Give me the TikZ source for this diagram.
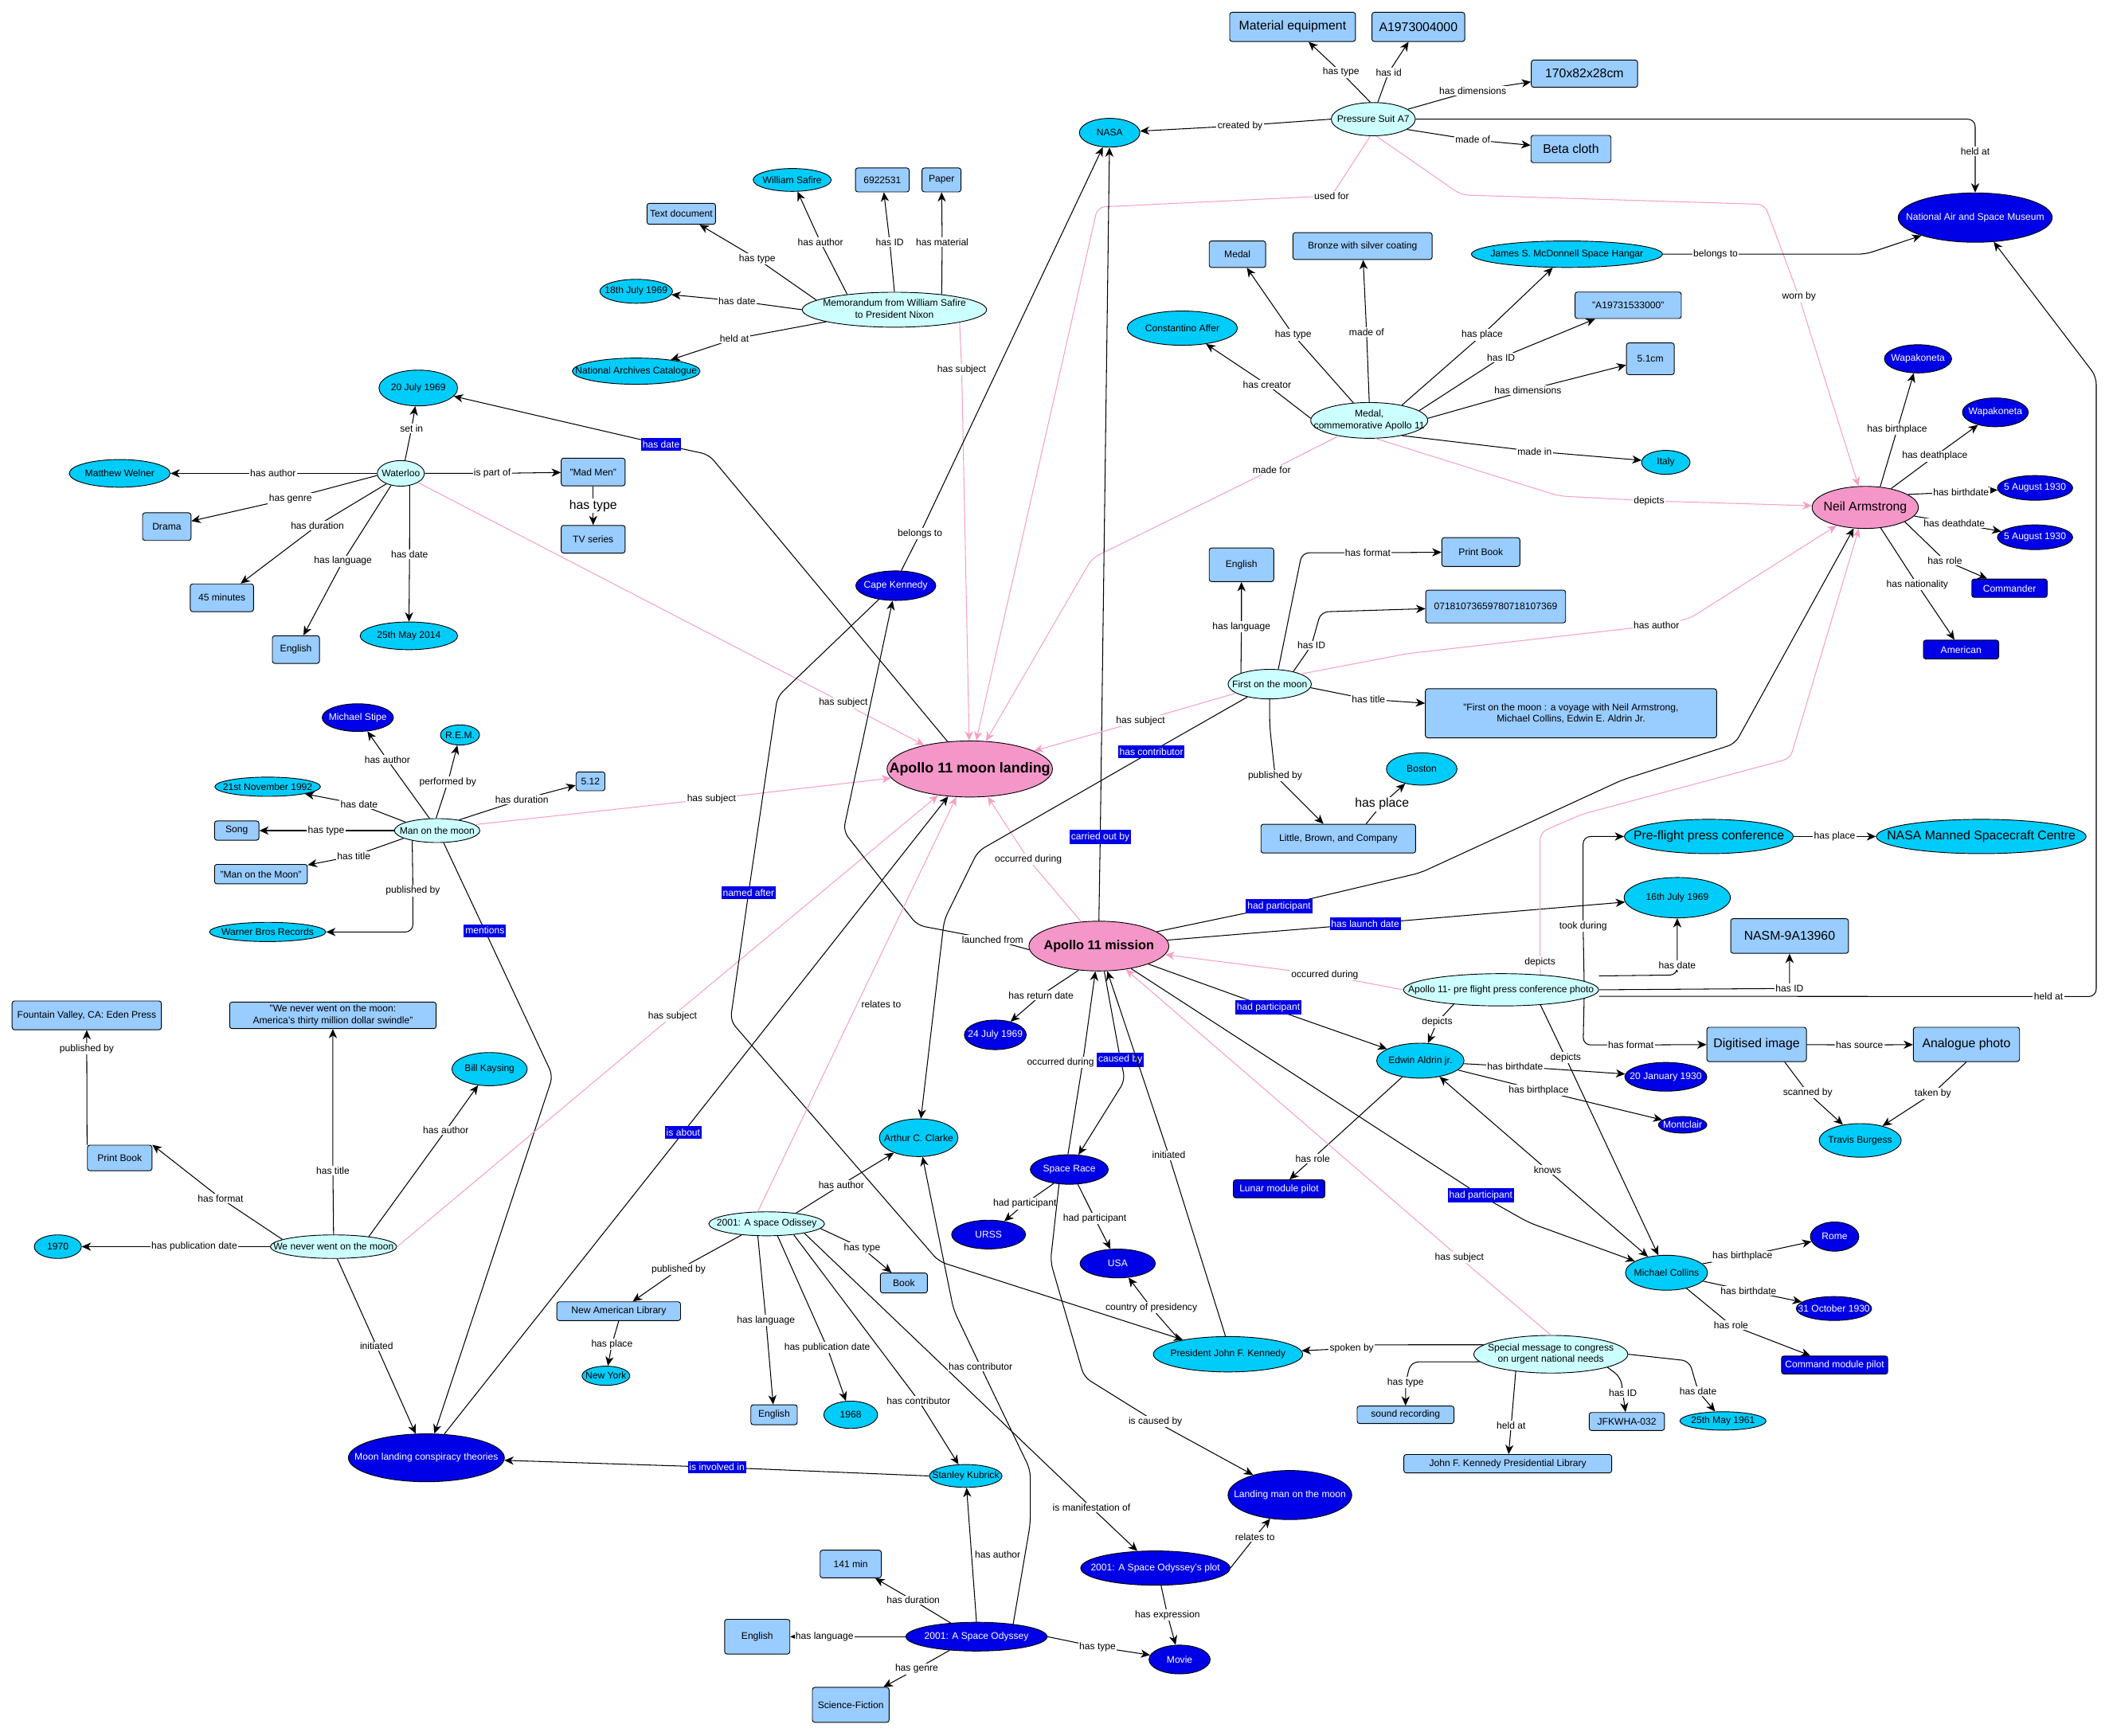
\documentclass[tikz,border=0pt]{standalone}
\usepackage{fontspec}
\setmainfont{Liberation Sans}
\usepackage{xcolor}
\usepackage{tikz}
\usetikzlibrary{shapes.geometric}
\usetikzlibrary{arrows.meta}
\definecolor{entcyan}{RGB}{0,204,250}
\definecolor{entlight}{RGB}{204,255,255}
\definecolor{entblue}{RGB}{0,0,230}
\definecolor{valblue}{RGB}{153,204,255}
\definecolor{entpink}{RGB}{245,150,200}
\definecolor{edgepink}{RGB}{245,160,200}
\newcommand{\smallfont}{\fontsize{5.2}{6.2}\selectfont}
\newcommand{\largefont}{\fontsize{6.8}{8.1}\selectfont}
\newcommand{\titlefont}{\fontsize{7}{8.4}\selectfont\bfseries}
\newcommand{\bigtitlefont}{\fontsize{7.7}{9.2}\selectfont\bfseries}

\begin{document}
\begin{tikzpicture}[x=0.2551mm, y=-0.2551mm, >={Stealth[length=5pt,width=4.4pt,inset=1.5pt]},
  dims/.style 2 args={minimum width=#1*0.2551mm, minimum height=#2*0.2551mm},
  ent node/.style={ellipse, draw, line width=0.4pt, inner sep=0pt, font=\smallfont,
    execute at begin node={\hbox to 0pt\bgroup\hss}, execute at end node={\hss\egroup}},
  cyan node/.style={ent node, fill=entcyan},
  light node/.style={ent node, fill=entlight},
  blue node/.style={ent node, fill=entblue, text=white},
  pink node/.style={ent node, fill=entpink},
  val node/.style={rectangle, draw, line width=0.4pt, fill=valblue, rounded corners=1.3pt, inner sep=1pt, font=\smallfont},
  blue val/.style={val node, fill=entblue, text=white},
  largetxt/.style={font=\largefont},
  edge lab/.style={sharp corners, fill=white, inner sep=0.6pt, font=\smallfont},
  blue lab/.style={sharp corners, fill=entblue, text=white, inner xsep=0.8pt, inner ysep=1.5pt, font=\smallfont},
  big lab/.style={edge lab, font=\largefont},
  arr/.style={draw, line width=0.45pt, ->},
  pink arr/.style={arr, draw=edgepink},
  both arr/.style={arr, <->},
  curvy/.style={rounded corners=4pt}]
\useasboundingbox (0,0) rectangle (1568,1290.3);

% Nodes: pressure suit, medal, Armstrong
\node[val node, largetxt, dims={93.5}{21.7}] (mateq) at (961,20) {Material equipment};
\node[val node, largetxt, dims={69}{21.7}] (suitid) at (1054.5,20) {A1973004000};
\node[val node, largetxt, dims={79}{20.3}] (suitdim) at (1178,54.8) {170x82x28cm};
\node[light node, dims={62.5}{24.7}] (suit) at (1021,88.6) {Pressure Suit A7};
\node[cyan node, dims={45}{21.4}] (nasa) at (825,98.7) {NASA};
\node[val node, largetxt, dims={59.5}{20.3}] (beta) at (1168,110.8) {Beta cloth};
\node[blue node, dims={114.5}{36.7}] (nasm) at (1468.5,161.8) {National Air and Space Museum};
\node[val node, dims={42}{19.7}] (medaltype) at (920,189) {Medal};
\node[val node, dims={103.5}{20}] (bronze) at (1013,183) {Bronze with silver coating};
\node[cyan node, dims={142}{19.7}] (hangar) at (1165,189) {James S. McDonnell Space Hangar};
\node[cyan node, dims={82}{25.5}] (affer) at (879,244) {Constantino Affer};
\node[val node, dims={79}{19.7}] (medalid) at (1210.5,227) {"A19731533000"};
\node[val node, dims={35.5}{23.6}] (medaldim) at (1227,266.8) {5.1cm};
\node[light node, dims={87}{26.6}] (medal) at (1018,312.6) {\begin{tabular}{@{}c@{}}Medal,\\commemorative Apollo 11\end{tabular}};
\node[cyan node, dims={36}{17.8}] (italy) at (1238.5,343.8) {Italy};
\node[pink node, largetxt, dims={79}{31.3}] (neil) at (1386.75,377.3) {Neil Armstrong};
\node[blue node, dims={50}{21}] (wapa1) at (1426,266.8) {Wapakoneta};
\node[blue node, dims={49}{21.4}] (wapa2) at (1483.5,306.6) {Wapakoneta};
\node[blue node, dims={56}{18.4}] (nbirth) at (1513,362.8) {5 August 1930};
\node[blue node, dims={56}{18.4}] (ndeath) at (1513,399.5) {5 August 1930};
\node[blue val, dims={56}{13.7}] (commander) at (1494,437.4) {Commander};
\node[blue val, dims={56}{14}] (american) at (1458,483) {American};

% memorandum
\node[cyan node, dims={58}{17}] (safire) at (589,133.8) {William Safire};
\node[val node, dims={40}{17.8}] (memoid) at (656,133.8) {6922531};
\node[val node, dims={29}{17.8}] (paper) at (700,133.8) {Paper};
\node[val node, dims={51}{15.6}] (textdoc) at (506.5,159) {Text document};
\node[cyan node, dims={54}{17.8}] (memodate) at (473,216.6) {18th July 1969};
\node[light node, dims={137}{26}] (memo) at (665,230.3) {\begin{tabular}{@{}c@{}}Memorandum from William Safire\\to President Nixon\end{tabular}};
\node[cyan node, dims={95}{19.5}] (archives) at (473,276) {National Archives Catalogue};

% Waterloo
\node[cyan node, dims={58.5}{26.6}] (july20) at (311,288.5) {20 July 1969};
\node[cyan node, dims={75}{20.6}] (welner) at (89,352) {Matthew Welner};
\node[light node, dims={35}{19}] (waterloo) at (298,352) {Waterloo};
\node[val node, dims={36}{20.6}] (drama) at (124,391.6) {Drama};
\node[val node, dims={47.5}{20.6}] (madmen) at (441,351) {"Mad Men"};
\node[val node, dims={47.5}{20.6}] (tvseries) at (441,401) {TV series};
\node[val node, dims={47}{20.6}] (minutes) at (165,444.5) {45 minutes};
\node[val node, dims={35}{20.6}] (wenglish) at (220,483) {English};
\node[cyan node, dims={72.5}{20.6}] (may2014) at (304,472.8) {25th May 2014};

% Man on the moon
\node[blue node, dims={53}{20.6}] (stipe) at (266,533.6) {Michael Stipe};
\node[cyan node, dims={29}{15}] (rem) at (342,546.5) {R.E.M.};
\node[cyan node, dims={78.5}{14.3}] (nov1992) at (199,585) {21st November 1992};
\node[val node, dims={33}{14.3}] (song) at (176,617.6) {Song};
\node[val node, dims={69}{14.5}] (mtitle) at (194,650) {"Man on the Moon"};
\node[light node, dims={63.5}{17.8}] (mom) at (325,617.6) {Man on the moon};
\node[cyan node, dims={86.5}{14.3}] (warner) at (199,693) {Warner Bros Records};
\node[val node, dims={21.5}{14}] (dur512) at (439,581) {5.12};

% centre
\node[blue node, dims={59.5}{22}] (cape) at (666,435.5) {Cape Kennedy};
\node[pink node, font=\bigtitlefont, dims={123}{41.7}] (landing) at (721,571.8) {Apollo 11 moon landing};
\node[pink node, font=\titlefont, dims={104}{37}] (mission) at (817,703.5) {Apollo 11 mission};
\node[blue node, dims={46}{22}] (july24) at (740,769.5) {24 July 1969};
\node[cyan node, dims={58.5}{28}] (clarke) at (683,846) {Arthur C. Clarke};

% First on the moon
\node[val node, dims={48}{25}] (fenglish) at (923,420) {English};
\node[val node, dims={58}{21.4}] (printbook) at (1101,410.5) {Print Book};
\node[val node, dims={104}{24.4}] (isbn) at (1112,451) {07181073659780718107369};
\node[light node, dims={62}{22}] (first) at (944,508.7) {First on the moon};
\node[val node, align=center, dims={216.5}{36.5}] (ftitle) at (1168,530.4) {"First on the moon : a voyage with Neil Armstrong,\\Michael Collins, Edwin E. Aldrin Jr.};
\node[cyan node, dims={52.5}{24}] (boston) at (1057,571.8) {Boston};
\node[val node, dims={115}{21.4}] (little) at (995,623.6) {Little, Brown, and Company};

% press conference photo
\node[cyan node, largetxt, dims={125.5}{25.5}] (preflight) at (1270.5,622) {Pre-flight press conference};
\node[cyan node, largetxt, dims={156}{25.5}] (mannedctr) at (1473,622) {NASA Manned Spacecraft Centre};
\node[cyan node, dims={79}{30}] (july16) at (1247,667.5) {16th July 1969};
\node[val node, largetxt, dims={87.5}{25.8}] (nasmid) at (1330.5,696) {NASM-9A13960};
\node[light node, dims={145}{24}] (photo) at (1116,736) {Apollo 11- pre flight press conference photo};
\node[val node, largetxt, dims={74}{25.5}] (digitised) at (1306,776.6) {Digitised image};
\node[val node, largetxt, dims={79}{25.5}] (analogue) at (1462,776.6) {Analogue photo};
\node[cyan node, dims={61}{25}] (travis) at (1383,848) {Travis Burgess};
\node[cyan node, dims={65}{26}] (aldrin) at (1056,788.7) {Edwin Aldrin jr.};
\node[blue node, dims={61}{21.4}] (jan1930) at (1238.5,800.7) {20 January 1930};
\node[blue node, dims={36}{12.3}] (montclair) at (1251,836.4) {Montclair};
\node[blue val, dims={68}{13.4}] (lunar) at (951,884) {Lunar module pilot};
\node[cyan node, dims={61}{26}] (collins) at (1239,946.4) {Michael Collins};
\node[blue node, dims={36}{21.7}] (rome) at (1364,919.5) {Rome};
\node[blue node, dims={56}{17.8}] (oct1930) at (1363.5,973) {31 October 1930};
\node[blue val, dims={79}{13.4}] (cmpilot) at (1364,1015) {Command module pilot};

% We never went on the moon
\node[val node, dims={111}{21.4}] (fountain) at (64.5,755) {Fountain Valley, CA: Eden Press};
\node[val node, align=center, dims={153.5}{19.7}] (wtitle) at (247.5,755) {"We never went on the moon:\\America's thirty million dollar swindle"};
\node[cyan node, dims={56}{24.7}] (kaysing) at (364,795) {Bill Kaysing};
\node[val node, dims={48}{19}] (wprint) at (89,861) {Print Book};
\node[cyan node, dims={35}{17.5}] (y1970) at (43,927) {1970};
\node[light node, dims={94}{17.5}] (wenever) at (248,927) {We never went on the moon};
\node[blue node, dims={116}{35.6}] (conspiracy) at (317,1084) {Moon landing conspiracy theories};

% 2001
\node[light node, dims={86}{17.8}] (odissey) at (570,910) {2001: A space Odissey};
\node[val node, dims={92}{14}] (nal) at (460,975) {New American Library};
\node[cyan node, dims={35.5}{14.3}] (newyork) at (450.5,1023) {New York};
\node[val node, dims={34.5}{14.8}] (oenglish) at (575.5,1052) {English};
\node[cyan node, dims={40}{20.3}] (y1968) at (632.5,1052) {1968};
\node[val node, dims={35}{14.8}] (book) at (672,954) {Book};
\node[cyan node, dims={54}{17}] (kubrick) at (718,1097.5) {Stanley Kubrick};
\node[val node, dims={45.5}{20.6}] (min141) at (632.5,1163) {141 min};
\node[val node, dims={48.5}{25.8}] (senglish) at (563,1217) {English};
\node[blue node, dims={105}{21.4}] (odyssey) at (726,1217) {2001: A Space Odyssey};
\node[val node, dims={57}{26}] (scifi) at (632.5,1267.7) {Science-Fiction};

% Space race, Kennedy
\node[blue node, dims={55}{21.4}] (urss) at (735,918) {URSS};
\node[blue node, dims={58}{22}] (spacerace) at (795,869.6) {Space Race};
\node[blue node, dims={56}{21.4}] (usa) at (831,939.5) {USA};
\node[cyan node, dims={111}{26.3}] (jfk) at (913,1007) {President John F. Kennedy};
\node[light node, dims={114.5}{28}] (special) at (1153,1007) {\begin{tabular}{@{}c@{}}Special message to congress\\on urgent national needs\end{tabular}};
\node[val node, dims={72}{13}] (sound) at (1045,1052) {sound recording};
\node[val node, dims={154.5}{13.7}] (jfklib) at (1121,1088.4) {John F. Kennedy Presidential Library};
\node[val node, dims={56}{13.4}] (jfkid) at (1209.5,1057) {JFKWHA-032};
\node[cyan node, dims={64}{13.7}] (may1961) at (1281,1056.6) {25th May 1961};
\node[blue node, dims={92}{36.5}] (landingman) at (959,1111.7) {Landing man on the moon};
\node[blue node, dims={111}{25.5}] (plot) at (859,1166) {2001: A Space Odyssey's plot};
\node[blue node, dims={45.5}{21.4}] (movie) at (877,1234) {Movie};

% Edges: pressure suit, medal, Armstrong
\draw[arr] (suit.100) -- (997,53.7) node[edge lab]{has type} -- (mateq);
\draw[arr] (suit.75) -- (1032.5,53.7) node[edge lab]{has id} -- (suitid);
\draw[arr] (suit.16) -- (1095,67.5) node[edge lab]{has dimensions} -- (suitdim);
\draw[arr] (suit.-17) -- (1095,104) node[edge lab]{made of} -- (beta);
\draw[arr] (suit.180) -- (922,93.5) node[edge lab]{created by} -- (nasa);
\draw[arr, curvy] (suit.0) -- (1468.5,88.6) -- (1468.5,112.4) node[edge lab]{held at} -- (nasm);
\draw[pink arr, curvy] (suit.280) -- (1086.5,145) -- (1312,152) -- (1337.5,220.7) node[edge lab]{worn by} -- (neil);
\draw[pink arr, curvy] (suit.260) -- (990,145.6) node[edge lab]{used for} -- (816,154) -- (landing);
\draw[arr, curvy] (hangar.0) -- (1275.5,189) node[edge lab]{belongs to} -- (1387,189) -- (nasm);
\draw[arr] (medal.178) -- (942,286) node[edge lab]{has creator} -- (affer);
\draw[arr] (medal.132) -- (961.5,249) node[edge lab]{has type} -- (medaltype);
\draw[arr] (medal.90) -- (1016,246.8) node[edge lab]{made of} -- (bronze);
\draw[arr] (medal.25) -- (1102,249) node[edge lab]{has place} -- (hangar);
\draw[arr] (medal.11) -- (1116,266) node[edge lab]{has ID} -- (medalid);
\draw[arr] (medal.2) -- (1136,290) node[edge lab]{has dimensions} -- (medaldim);
\draw[arr] (medal.-25) -- (1141,335.6) node[edge lab]{made in} -- (italy);
\draw[pink arr, curvy] (medal.290) -- (1159,368.8) -- (1226,372.4) node[edge lab]{depicts} -- (neil);
\draw[pink arr, curvy] (medal.207) -- (945.5,349.3) node[edge lab]{made for} -- (812,415) -- (landing);
\draw[arr] (neil.54) -- (1410.5,319.4) node[edge lab]{has birthplace} -- (wapa1);
\draw[arr] (neil.36) -- (1438.5,339.2) node[edge lab]{has deathplace} -- (wapa2);
\draw[arr] (neil.17) -- (1458,365.8) node[edge lab]{has birthdate} -- (nbirth);
\draw[arr] (neil.-10) -- (1453,389) node[edge lab]{has deathdate} -- (ndeath);
\draw[arr] (neil.-20) -- (1446,416.8) node[edge lab]{has role} -- (commander);
\draw[arr] (neil.-53) -- (1425.5,434.7) node[edge lab]{has nationality} -- (american);

% memorandum
\draw[arr] (memo.173) -- (563,192.5) node[edge lab]{has type} -- (textdoc);
\draw[arr] (memo.162) -- (610,180) node[edge lab]{has author} -- (safire);
\draw[arr] (memo.90) -- (661.5,180) node[edge lab]{has ID} -- (memoid);
\draw[arr] (memo.18) -- (700.5,180) node[edge lab]{has material} -- (paper);
\draw[arr] (memo.180) -- (548,223.8) node[edge lab]{has date} -- (memodate);
\draw[arr] (memo.190) -- (546,252) node[edge lab]{held at} -- (archives);
\draw[pink arr] (memo.-11) -- (715,275) node[edge lab]{has subject} -- (landing);

% Waterloo
\draw[arr] (waterloo.72) -- (306,318.6) node[edge lab]{set in} -- (july20);
\draw[arr] (waterloo.180) -- (203,352) node[edge lab]{has author} -- (welner);
\draw[arr] (waterloo.185) -- (216,370.7) node[edge lab]{has genre} -- (drama);
\draw[arr] (waterloo.216) -- (236,390.7) node[edge lab]{has duration} -- (minutes);
\draw[arr] (waterloo.231) -- (255,417.3) node[edge lab]{has language} -- (wenglish);
\draw[arr] (waterloo.306) -- (304.5,412) node[edge lab]{has date} -- (may2014);
\draw[arr] (waterloo.0) -- (366,352) node[edge lab]{is part of} -- (madmen);
\draw[arr] (madmen) -- (441,376) node[big lab]{has type} -- (tvseries);
\draw[pink arr] (waterloo.332) -- (627,522.7) node[edge lab]{has subject} -- (landing);

% Man on the moon
\draw[arr] (mom.122) -- (288,565) node[edge lab]{has author} -- (stipe);
\draw[arr] (mom.95) -- (333,581.6) node[edge lab]{performed by} -- (rem);
\draw[arr] (mom.165) -- (267,598) node[edge lab]{has date} -- (nov1992);
\draw[arr] (mom.180) -- (242.5,617.6) node[edge lab]{has type} -- (song);
\draw[arr] (mom.193) -- (263,636.5) node[edge lab]{has title} -- (mtitle);
\draw[arr, curvy] (mom.202) -- (307,662.5) node[edge lab]{published by} -- (307,693) -- (warner);
\draw[arr] (mom.26) -- (388,594.5) node[edge lab]{has duration} -- (dur512);
\draw[arr, curvy] (mom.298) -- (360.5,692) node[blue lab]{mentions} -- (411,800) -- (conspiracy);
\draw[pink arr] (mom.9) -- (529,594) node[edge lab]{has subject} -- (landing);

% We never went on the moon
\draw[arr] (wenever.90) -- (247.5,870.4) node[edge lab]{has title} -- (wtitle);
\draw[arr] (wenever.172) -- (164,891) node[edge lab]{has format} -- (wprint.north east);
\draw[arr] (wenever.180) -- (144.5,927) node[edge lab]{has publication date} -- (y1970);
\draw[arr] (wenever.16) -- (331.5,840.5) node[edge lab]{has author} -- (kaysing);
\draw[arr] (wenever.287) -- (280,1001) node[edge lab]{initiated} -- (conspiracy);
\draw[pink arr] (wenever.0) -- (500,755.5) node[edge lab]{has subject} -- (landing);
\draw[arr] (wprint.north west) -- (64.5,780) node[edge lab]{published by} -- (fountain);
\draw[arr] (conspiracy.53) -- (508,842) node[blue lab]{is about} -- (landing);

% Cape Kennedy and the mission
\draw[arr] (cape.70) -- (684,396.8) node[edge lab]{belongs to} -- (nasa);
\draw[arr, curvy] (cape.219) -- (578,518) -- (556.5,664) node[blue lab]{named after} -- (543,759) -- (698,938) -- (jfk);
\draw[arr, curvy] (landing.129) -- (527,338) -- (491.5,330.4) node[blue lab]{has date} -- (july20);
\draw[arr] (mission.90) -- (818,622.5) node[blue lab]{carried out by} -- (nasa);
\draw[pink arr] (mission.126) -- (764.5,639) node[edge lab]{occurred during} -- (landing);
\draw[arr, curvy] (mission.183) -- (738,698.7) node[edge lab]{launched from} -- (682,688) -- (627,618) -- (cape);
\draw[arr, curvy] (mission.14) -- (951,673.8) node[blue lab]{had participant} -- (1056,649) -- (1206,580) -- (1290,553) -- (neil);
\draw[arr] (mission.5) -- (1015,687) node[blue lab]{has launch date} -- (july16);
\draw[arr] (mission.-20) -- (943,749) node[blue lab]{had participant} -- (aldrin);
\draw[arr, curvy] (mission.-35) -- (1101,889) node[blue lab]{had participant} -- (1136.5,909) -- (collins);
\draw[arr] (mission.230) -- (774,740) node[edge lab]{has return date} -- (july24);
\draw[arr, curvy] (mission.-78) -- (833,788) node[blue lab]{caused by} -- (836.5,803) -- (spacerace);

% First on the moon
\draw[arr] (first.159) -- (923,466) node[edge lab]{has language} -- (fenglish);
\draw[arr, curvy] (first.60) -- (968,411) -- (1017,411) node[edge lab]{has format} -- (printbook);
\draw[arr, curvy] (first.28) -- (975,480) node[edge lab]{has ID} -- (982,455) -- (isbn);
\draw[arr] (first.-5) -- (1017.5,520) node[edge lab]{has title} -- (ftitle);
\draw[arr, curvy] (first.270) -- (944,540) -- (948,576.7) node[edge lab]{published by} -- (little);
\draw[arr] (little.28) -- (1027.5,598) node[big lab]{has place} -- (boston);
\draw[arr, curvy] (first.210) -- (856,559) node[blue lab]{has contributor} -- (727,633) -- (702,684) -- (clarke);
\draw[pink arr] (first.195) -- (848,536) node[edge lab]{has subject} -- (landing);
\draw[pink arr, curvy] (first.18) -- (1046.5,486) -- (1231.5,465) node[edge lab]{has author} -- (1256,460) -- (neil);

% press conference photo
\draw[pink arr] (photo.180) -- (985,725) node[edge lab]{occurred during} -- (mission);
\draw[arr, curvy] (photo.6) -- (1177,688.6) node[edge lab]{took during} -- (1177,622) -- (preflight);
\draw[arr] (preflight) -- (1364,622) node[edge lab]{has place} -- (mannedctr);
\draw[arr, curvy] ([yshift=7.5pt]photo.east) -- (1247,725) -- (1247,717.6) node[edge lab]{has date} -- (july16);
\draw[arr] (photo.east) -- (1330.5,735) node[edge lab]{has ID} -- (nasmid);
\draw[arr, curvy] ([yshift=-3.5pt]photo.east) -- (1523,741) node[edge lab]{held at} -- (1558.5,741) -- (1558.5,280) -- (nasm);
\draw[arr, curvy] (photo.-6) -- (1177,777) -- (1212.5,777) node[edge lab]{has format} -- (digitised);
\draw[arr] (photo.197) -- (1068.5,760) node[edge lab]{depicts} -- (aldrin);
\draw[arr] (photo.339) -- (1164,786.5) node[edge lab]{depicts} -- (collins);
\draw[pink arr, curvy] (photo.21) -- (1145,715.4) node[edge lab]{depicts} -- (1145,619) -- (1176,605.5) -- (1331,564) -- (neil);
\draw[arr] (digitised) -- (1382.5,777) node[edge lab]{has source} -- (analogue);
\draw[arr] (digitised.-32) -- (1344,812.5) node[edge lab]{scanned by} -- (travis);
\draw[arr] (analogue.south) -- (1437,813) node[edge lab]{taken by} -- (travis);

% Aldrin and Collins
\draw[arr] (aldrin.-4) -- (1126.5,793) node[edge lab]{has birthdate} -- (jan1930);
\draw[arr] (aldrin.-14) -- (1144,810.6) node[edge lab]{has birthplace} -- (montclair);
\draw[arr] (aldrin.222) -- (976,861.4) node[edge lab]{has role} -- (lunar);
\draw[both arr] (aldrin.-40) -- (1150.5,870) node[edge lab]{knows} -- (collins);
\draw[arr] (collins.14) -- (1295.5,934.3) node[edge lab]{has birthplace} -- (rome);
\draw[arr] (collins.-13) -- (1300,960) node[edge lab]{has birthdate} -- (oct1930);
\draw[arr] (collins.-38) -- (1287,985.3) node[edge lab]{has role} -- (cmpilot);

% 2001
\draw[arr] (odissey.20) -- (625.5,881) node[edge lab]{has author} -- (clarke);
\draw[arr] (odissey.-5) -- (641,928) node[edge lab]{has type} -- (book);
\draw[arr] (odissey.204) -- (504.5,944) node[edge lab]{published by} -- (nal);
\draw[arr] (odissey.234) -- (569.5,982) node[edge lab]{has language} -- (oenglish);
\draw[arr] (odissey.312) -- (615,1002) node[edge lab]{has publication date} -- (y1968);
\draw[arr] (odissey.338) -- (683,1041.5) node[edge lab]{has contributor} -- (kubrick);
\draw[arr] (odissey.346) -- (811.5,1121) node[edge lab]{is manifestation of} -- (plot);
\draw[pink arr] (odissey.126) -- node[edge lab, pos=0.5, anchor=west, xshift=1.5pt]{relates to} (landing);
\draw[arr] (nal.south) -- (455,999.6) node[edge lab]{has place} -- (newyork);
\draw[arr] (odyssey.90) -- node[edge lab, pos=0.5, anchor=west, xshift=1pt]{has author} (kubrick);
\draw[arr] (odyssey.152) -- (679,1190) node[edge lab]{has duration} -- (min141);
\draw[arr] (odyssey.180) -- (613,1217) node[edge lab]{has language} -- (senglish);
\draw[arr] (odyssey.207) -- (681.5,1241) node[edge lab]{has genre} -- (scifi);
\draw[arr] (odyssey.0) -- (816,1224.7) node[edge lab]{has type} -- (movie);
\draw[arr, curvy] (odyssey.19) -- (766,1133) -- (766,1093) -- (729,1016) node[edge lab]{has contributor} -- (709,974) -- (clarke);
\draw[arr] (kubrick.180) -- (533,1091) node[blue lab]{is involved in} -- (conspiracy);

% Space race, Kennedy, special message
\draw[arr] (spacerace.222) -- (762,895) node[edge lab]{had participant} -- (urss);
\draw[arr] (spacerace.300) -- (814,906) node[edge lab]{had participant} -- (usa);
\draw[arr] (spacerace.95) -- (805,790) node[edge lab, xshift=-12pt]{occurred during} -- (mission);
\draw[arr, curvy] (spacerace.235) -- (781,938) -- (806,1024) -- (859,1057) node[edge lab]{is caused by} -- (landingman);
\draw[arr] (jfk.164) -- (856,972.4) node[edge lab]{country of presidency} -- (usa);
\draw[arr] (jfk.98) -- (869,859) node[edge lab]{initiated} -- (mission);
\draw[pink arr] (special.90) -- (1085,935) node[edge lab]{has subject} -- (mission);
\draw[arr] (special.172) -- (1023,1000) -- (1005,1002.6) node[edge lab]{spoken by} -- (jfk);
\draw[arr, curvy] (special.186) -- (1049,1012.7) -- (1045,1028) node[edge lab]{has type} -- (sound);
\draw[arr] (special.206) -- (1123.5,1060) node[edge lab]{held at} -- (jfklib);
\draw[arr, curvy] (special.-13) -- (1205,1024) -- (1206.5,1035.5) node[edge lab]{has ID} -- (jfkid);
\draw[arr, curvy] (special.0) -- (1256,1012) -- (1262.5,1034.4) node[edge lab]{has date} -- (may1961);
\draw[arr] (plot.east) -- (933,1143) node[edge lab]{relates to} -- (landingman);
\draw[arr] (plot.288) -- (868,1201) node[edge lab]{has expression} -- (movie);
\end{tikzpicture}
\end{document}
